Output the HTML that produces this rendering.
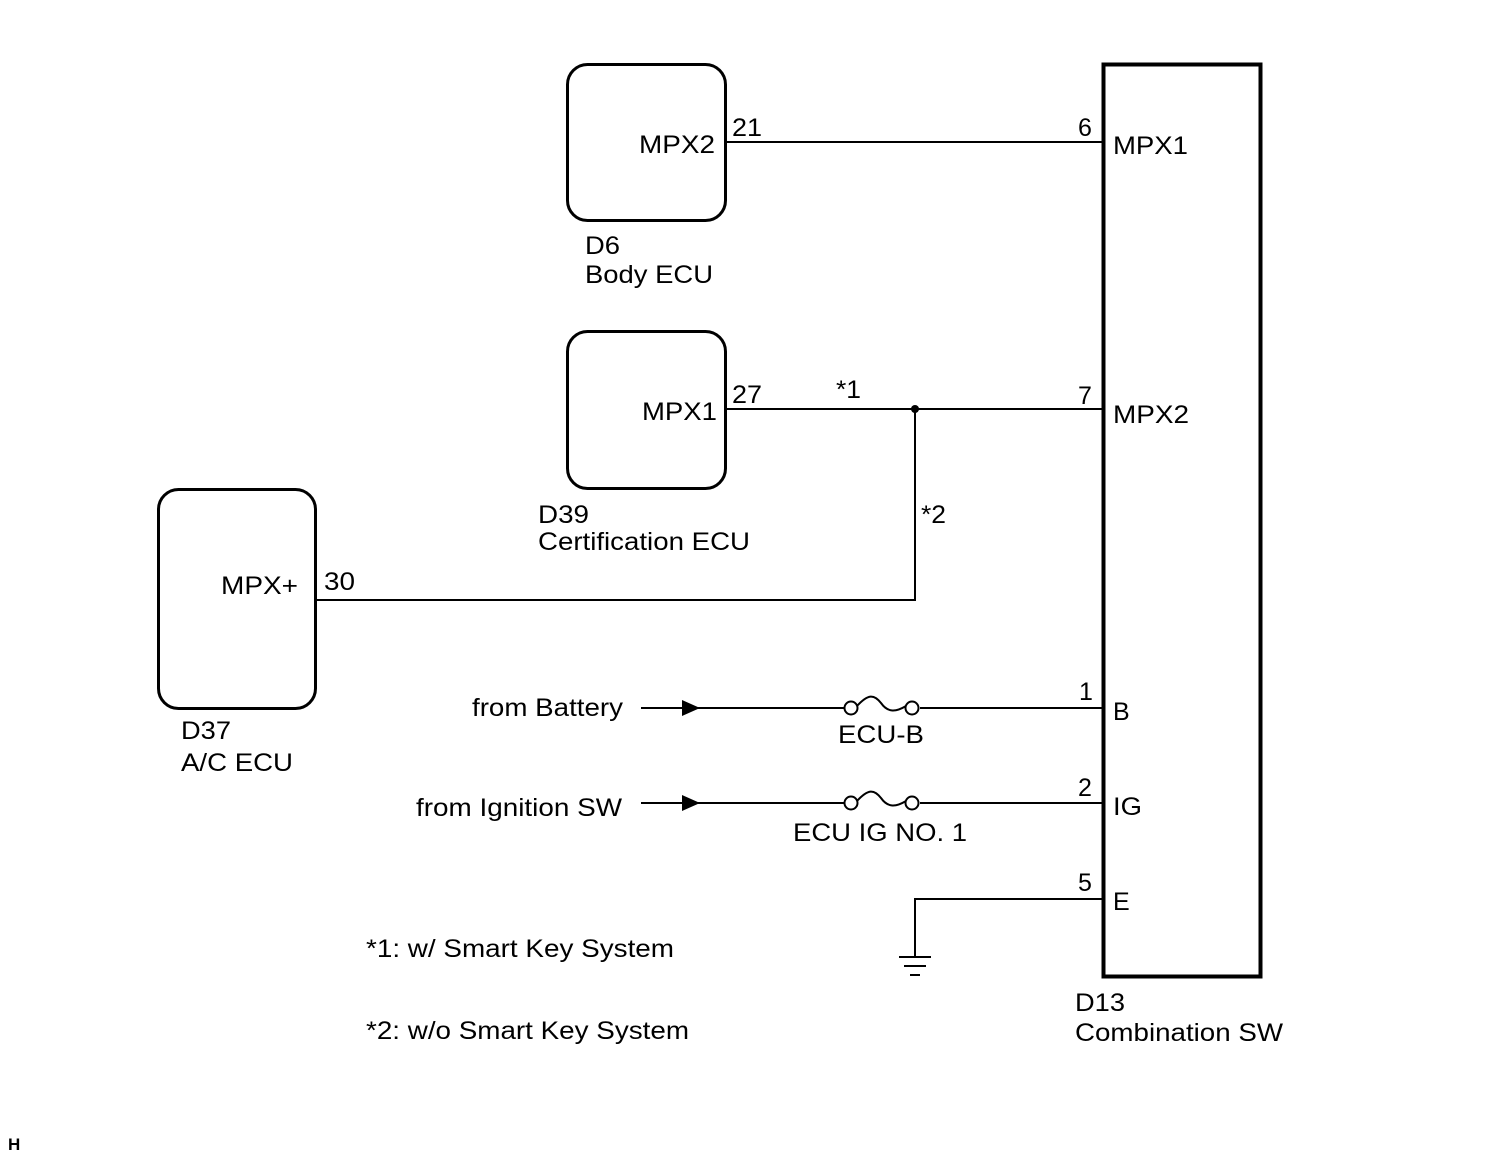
<!DOCTYPE html>
<html><head><meta charset="utf-8"><style>
html,body{margin:0;padding:0;background:#fff;}
svg{display:block;}
text{font-family:"Liberation Sans",Arial,sans-serif;font-size:25px;fill:#000;}
</style></head><body>
<svg width="1509" height="1160" viewBox="0 0 1509 1160" xmlns="http://www.w3.org/2000/svg">
<g fill="none" stroke="#000" stroke-width="3">
<rect x="567.5" y="64.5" width="158" height="156" rx="20"/>
<rect x="567.5" y="331.5" width="158" height="157" rx="20"/>
<rect x="158.5" y="489.5" width="157" height="219" rx="20"/>
<rect x="1103.5" y="64.5" width="157" height="912" stroke-width="4"/>
</g>
<g fill="none" stroke="#000" stroke-width="2">
<line x1="726" y1="142" x2="1103" y2="142"/>
<line x1="726" y1="409" x2="1103" y2="409"/>
<polyline points="915,409 915,600 316,600"/>
<line x1="641" y1="708" x2="844" y2="708"/>
<line x1="920" y1="708" x2="1103" y2="708"/>
<circle cx="851" cy="708" r="6.5"/>
<circle cx="912" cy="708" r="6.5"/>
<path d="M857,706 C868,694 874,694 881,703 C888,713 896,712 906,706"/>
<line x1="641" y1="803" x2="844" y2="803"/>
<line x1="920" y1="803" x2="1103" y2="803"/>
<circle cx="851" cy="803" r="6.5"/>
<circle cx="912" cy="803" r="6.5"/>
<path d="M857,801 C868,789 874,789 881,798 C888,808 896,807 906,801"/>
<polyline points="1103,899 915,899 915,957"/>
<line x1="899" y1="957" x2="931" y2="957"/>
<line x1="904" y1="966" x2="926" y2="966"/>
<line x1="910" y1="975" x2="920" y2="975"/>
</g>
<circle cx="915" cy="409" r="4" fill="#000"/>
<polygon points="682,700 700,708 682,716" fill="#000"/>
<polygon points="682,795 700,803 682,811" fill="#000"/>
<g lengthAdjust="spacingAndGlyphs">
<text x="639" y="153" textLength="76" lengthAdjust="spacingAndGlyphs">MPX2</text>
<text x="732" y="136" textLength="30" lengthAdjust="spacingAndGlyphs">21</text>
<text x="585" y="254" textLength="35" lengthAdjust="spacingAndGlyphs">D6</text>
<text x="585" y="283" textLength="128" lengthAdjust="spacingAndGlyphs">Body ECU</text>
<text x="642" y="420" textLength="75" lengthAdjust="spacingAndGlyphs">MPX1</text>
<text x="732" y="403" textLength="30" lengthAdjust="spacingAndGlyphs">27</text>
<text x="538" y="523" textLength="51" lengthAdjust="spacingAndGlyphs">D39</text>
<text x="538" y="550" textLength="212" lengthAdjust="spacingAndGlyphs">Certification ECU</text>
<text x="836" y="398" textLength="25" lengthAdjust="spacingAndGlyphs">*1</text>
<text x="921" y="523" textLength="25" lengthAdjust="spacingAndGlyphs">*2</text>
<text x="221" y="594" textLength="77" lengthAdjust="spacingAndGlyphs">MPX+</text>
<text x="324" y="590" textLength="31" lengthAdjust="spacingAndGlyphs">30</text>
<text x="181" y="739" textLength="50" lengthAdjust="spacingAndGlyphs">D37</text>
<text x="181" y="771" textLength="112" lengthAdjust="spacingAndGlyphs">A/C ECU</text>
<text x="472" y="716" textLength="151" lengthAdjust="spacingAndGlyphs">from Battery</text>
<text x="838" y="743" textLength="86" lengthAdjust="spacingAndGlyphs">ECU-B</text>
<text x="416" y="816" textLength="206" lengthAdjust="spacingAndGlyphs">from Ignition SW</text>
<text x="793" y="841" textLength="174" lengthAdjust="spacingAndGlyphs">ECU IG NO. 1</text>
<text x="1078" y="136">6</text>
<text x="1113" y="154" textLength="75" lengthAdjust="spacingAndGlyphs">MPX1</text>
<text x="1078" y="404">7</text>
<text x="1113" y="423" textLength="76" lengthAdjust="spacingAndGlyphs">MPX2</text>
<text x="1079" y="700">1</text>
<text x="1113" y="720">B</text>
<text x="1078" y="796">2</text>
<text x="1113" y="815" textLength="29" lengthAdjust="spacingAndGlyphs">IG</text>
<text x="1078" y="891">5</text>
<text x="1113" y="910">E</text>
<text x="1075" y="1011" textLength="50" lengthAdjust="spacingAndGlyphs">D13</text>
<text x="1075" y="1041" textLength="208" lengthAdjust="spacingAndGlyphs">Combination SW</text>
<text x="366" y="957" textLength="308" lengthAdjust="spacingAndGlyphs">*1: w/ Smart Key System</text>
<text x="366" y="1039" textLength="323" lengthAdjust="spacingAndGlyphs">*2: w/o Smart Key System</text>
</g>
<text x="8" y="1150" style="font-size:17px;font-weight:bold">H</text>
</svg>
</body></html>
